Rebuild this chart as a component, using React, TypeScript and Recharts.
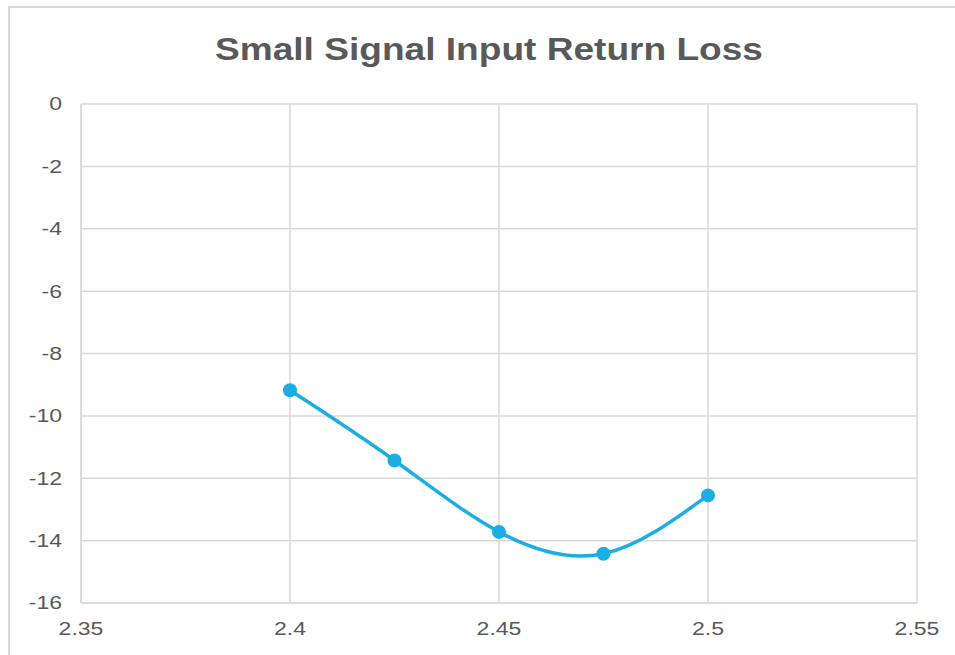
import React from 'react';
import { LineChart, Line, XAxis, YAxis, CartesianGrid } from 'recharts';

const frequencies = [2.4, 2.425, 2.45, 2.475, 2.5];
const returnLoss = [-9.18, -11.43, -13.72, -14.42, -12.55];
const xTicks = [2.35, 2.4, 2.45, 2.5, 2.55];
const yTicks = [0, -2, -4, -6, -8, -10, -12, -14, -16];

const chartData = frequencies.map((f, i) => ({ freq: f, loss: returnLoss[i] }));

const FONT = '"Liberation Sans", Arial, sans-serif';
const TEXT = '#595959';
const GRID = '#d9d9d9';
const LINE = '#1CADE4';

// the reference text is a bit wider than it is tall, so stretch it horizontally
const Tick = (props: any) => {
  const { x, y, payload, side } = props;
  const isX = side === 'x';
  return (
    <g transform={`translate(${x},${y}) scale(1.28,1)`}>
      <text
        textAnchor={isX ? 'middle' : 'end'}
        dy={isX ? '0.71em' : '0.355em'}
        fill={TEXT}
        fontSize={18}
        fontFamily={FONT}
      >
        {payload.value}
      </text>
    </g>
  );
};

export default function App() {
  return (
    <div style={{ position: 'absolute', left: 0, top: 0, width: 955, height: 655, overflow: 'hidden', background: '#fff' }}>
      <div
        style={{
          position: 'absolute',
          left: 8,
          top: 6,
          width: 980,
          height: 700,
          border: `2px solid ${GRID}`,
          boxSizing: 'border-box',
        }}
      />
      <svg width={955} height={80} style={{ position: 'absolute', left: 0, top: 0 }}>
        <text
          x={489}
          y={60}
          textAnchor="middle"
          fontSize={31}
          fontWeight="bold"
          fontFamily={FONT}
          fill={TEXT}
          textLength={548}
          lengthAdjust="spacingAndGlyphs"
        >
          Small Signal Input Return Loss
        </text>
      </svg>
      <div style={{ position: 'absolute', left: 0, top: 0 }}>
        <LineChart width={955} height={655} data={chartData} margin={{ top: 104, right: 38, bottom: 22, left: 0 }}>
          <CartesianGrid stroke={GRID} strokeWidth={1.5} />
          <XAxis
            dataKey="freq"
            type="number"
            domain={[2.35, 2.55]}
            ticks={xTicks}
            height={30}
            tickSize={0}
            tickMargin={19}
            axisLine={{ stroke: GRID, strokeWidth: 1.5 }}
            tickLine={false}
            tick={<Tick side="x" />}
            interval={0}
          />
          <YAxis
            type="number"
            domain={[-16, 0]}
            ticks={yTicks}
            width={81}
            tickSize={0}
            tickMargin={19}
            axisLine={{ stroke: GRID, strokeWidth: 1.5 }}
            tickLine={false}
            tick={<Tick side="y" />}
            interval={0}
          />
          <Line
            dataKey="loss"
            type="natural"
            stroke={LINE}
            strokeWidth={3.5}
            dot={{ r: 7, fill: LINE, stroke: 'none' }}
            activeDot={false}
            isAnimationActive={false}
          />
        </LineChart>
      </div>
    </div>
  );
}
